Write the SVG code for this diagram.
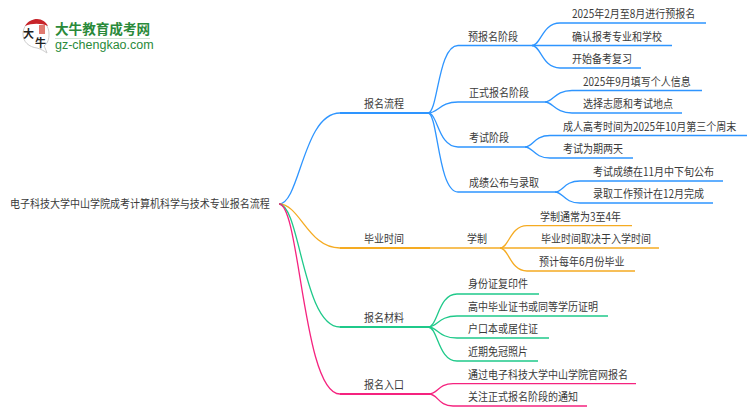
<svg xmlns="http://www.w3.org/2000/svg" width="750" height="410" viewBox="0 0 750 410">
<style>
text{font-family:"Noto Sans CJK SC","Liberation Sans",sans-serif;font-size:11.500px;fill:#3a3a3a;transform-box:fill-box;transform-origin:0 0;transform:scaleX(.87)}
#logo text{transform:none}
.c path{fill:none;stroke-width:1.3}
.c path.m{stroke-width:2.200}
.b path{stroke:#2e95ff}.o path{stroke:#f5ab22}.g path{stroke:#1fc98a}.r path{stroke:#f5237f}
</style>
<rect width="750" height="410" fill="#fff"/>
<g id="connectors" class="c">
<g class="b">
<path d="M279 204C300 204 303 113 340 113"/>
<path class="m" d="M340 113H429"/>
<path d="M428 113C438 113 438 45.500 458 45.500H532"/>
<path d="M428 113C438 113 440 102 458 102H545"/>
<path d="M428 113C438 113 438 147 458 147H525"/>
<path d="M428 113C438 113 438 192 458 192H555"/>
<path d="M532 45.500C541 45.500 542 23 560 23H706"/>
<path d="M532 45.500H672"/>
<path d="M532 45.500C541 45.500 542 68 560 68H641"/>
<path d="M545 102C553 102 555 90.500 572 90.500H702"/>
<path d="M545 102C553 102 555 113 572 113H682"/>
<path d="M525 147C533 147 534 135.500 550 135.500H747"/>
<path d="M525 147C533 147 534 158 550 158H633"/>
<path d="M555 192C563 192 564 181 580 181H723"/>
<path d="M555 192C563 192 564 203 580 203H713"/>
</g>
<g class="o">
<path d="M279 204C300 204 308 248 340 248"/>
<path class="m" d="M340 248H430"/>
<path d="M430 248H500"/>
<path d="M500 248C509 248 510 225.700 527 225.700H632"/>
<path d="M500 248H659"/>
<path d="M500 248C509 248 510 271 527 271H635"/>
</g>
<g class="g">
<path d="M279 204C300 204 303 327 340 327"/>
<path class="m" d="M340 327H430"/>
<path d="M428 327C438 327 438 294 457 294H539"/>
<path d="M428 327C438 327 438 316 457 316H608"/>
<path d="M428 327C438 327 438 338 457 338H549"/>
<path d="M428 327C438 327 438 361 457 361H538"/>
</g>
<g class="r">
<path d="M279 204C300 204 303 394 340 394"/>
<path class="m" d="M340 394H430"/>
<path d="M429 394C438 394 438 383.700 453 383.700H636"/>
<path d="M429 394C438 394 438 406 453 406H587"/>
</g>
</g>
<g id="root"><text x="10" y="208.500">电子科技大学中山学院成考计算机科学与技术专业报名流程</text></g>
<g id="n1"><text x="364" y="108.500">报名流程</text></g>
<g id="n2"><text x="364" y="243.500">毕业时间</text></g>
<g id="n3"><text x="364" y="322.500">报名材料</text></g>
<g id="n4"><text x="364" y="389.500">报名入口</text></g>
<g id="n11"><text x="468" y="41">预报名阶段</text></g>
<g id="n12"><text x="469" y="97.500">正式报名阶段</text></g>
<g id="n13"><text x="469" y="142.500">考试阶段</text></g>
<g id="n14"><text x="469" y="187.500">成绩公布与录取</text></g>
<g id="n21"><text x="467" y="243.500">学制</text></g>
<g id="t1"><text x="572" y="18.500">2025年2月至8月进行预报名</text></g>
<g id="t2"><text x="572" y="41">确认报考专业和学校</text></g>
<g id="t3"><text x="572" y="63.500">开始备考复习</text></g>
<g id="t4"><text x="583" y="86">2025年9月填写个人信息</text></g>
<g id="t5"><text x="583" y="108.500">选择志愿和考试地点</text></g>
<g id="t6"><text x="563" y="131">成人高考时间为2025年10月第三个周末</text></g>
<g id="t7"><text x="563" y="153.500">考试为期两天</text></g>
<g id="t8"><text x="593" y="176.500">考试成绩在11月中下旬公布</text></g>
<g id="t9"><text x="593" y="198.500">录取工作预计在12月完成</text></g>
<g id="t10"><text x="540" y="221.500">学制通常为3至4年</text></g>
<g id="t11"><text x="541" y="243.500">毕业时间取决于入学时间</text></g>
<g id="t12"><text x="539" y="266.500">预计每年6月份毕业</text></g>
<g id="t13"><text x="468" y="288.500">身份证复印件</text></g>
<g id="t14"><text x="468" y="311.500">高中毕业证书或同等学历证明</text></g>
<g id="t15"><text x="468" y="333.500">户口本或居住证</text></g>
<g id="t16"><text x="468" y="356.500">近期免冠照片</text></g>
<g id="t17"><text x="468" y="379">通过电子科技大学中山学院官网报名</text></g>
<g id="t18"><text x="468" y="401.500">关注正式报名阶段的通知</text></g>
<g id="logo">
<path d="M36 20C28 20 23 27 23 34C23 42 29 47 37 48C41 49 44 51 47 53C46 50 45 48 44 46C48 43 49 39 49 34C49 26 44 20 36 20Z" fill="#fff" stroke="#ccc"/>
<path d="M25 26C28 21 33 19 37 19C42 19 46 22 48 26C41 23 32 23 25 26Z" fill="#c8242a"/>
<rect x="39" y="25" width="6" height="9" fill="#e07a70"/>
<text x="23" y="38" style="font-size:11px;font-weight:700;fill:#222">大</text>
<text x="35" y="47" style="font-size:11px;font-weight:700;fill:#222">牛</text>
<text x="55" y="34" style="font-size:13.600px;font-weight:700;fill:#2a8a3a">大牛教育成考网</text>
<rect x="55" y="38" width="95" height="1" fill="#cfe3d2"/>
<text x="55" y="49" style="font-family:'Liberation Sans',sans-serif;font-size:12.500px;fill:#2a8a3a">gz-chengkao.com</text>
</g>
</svg>
